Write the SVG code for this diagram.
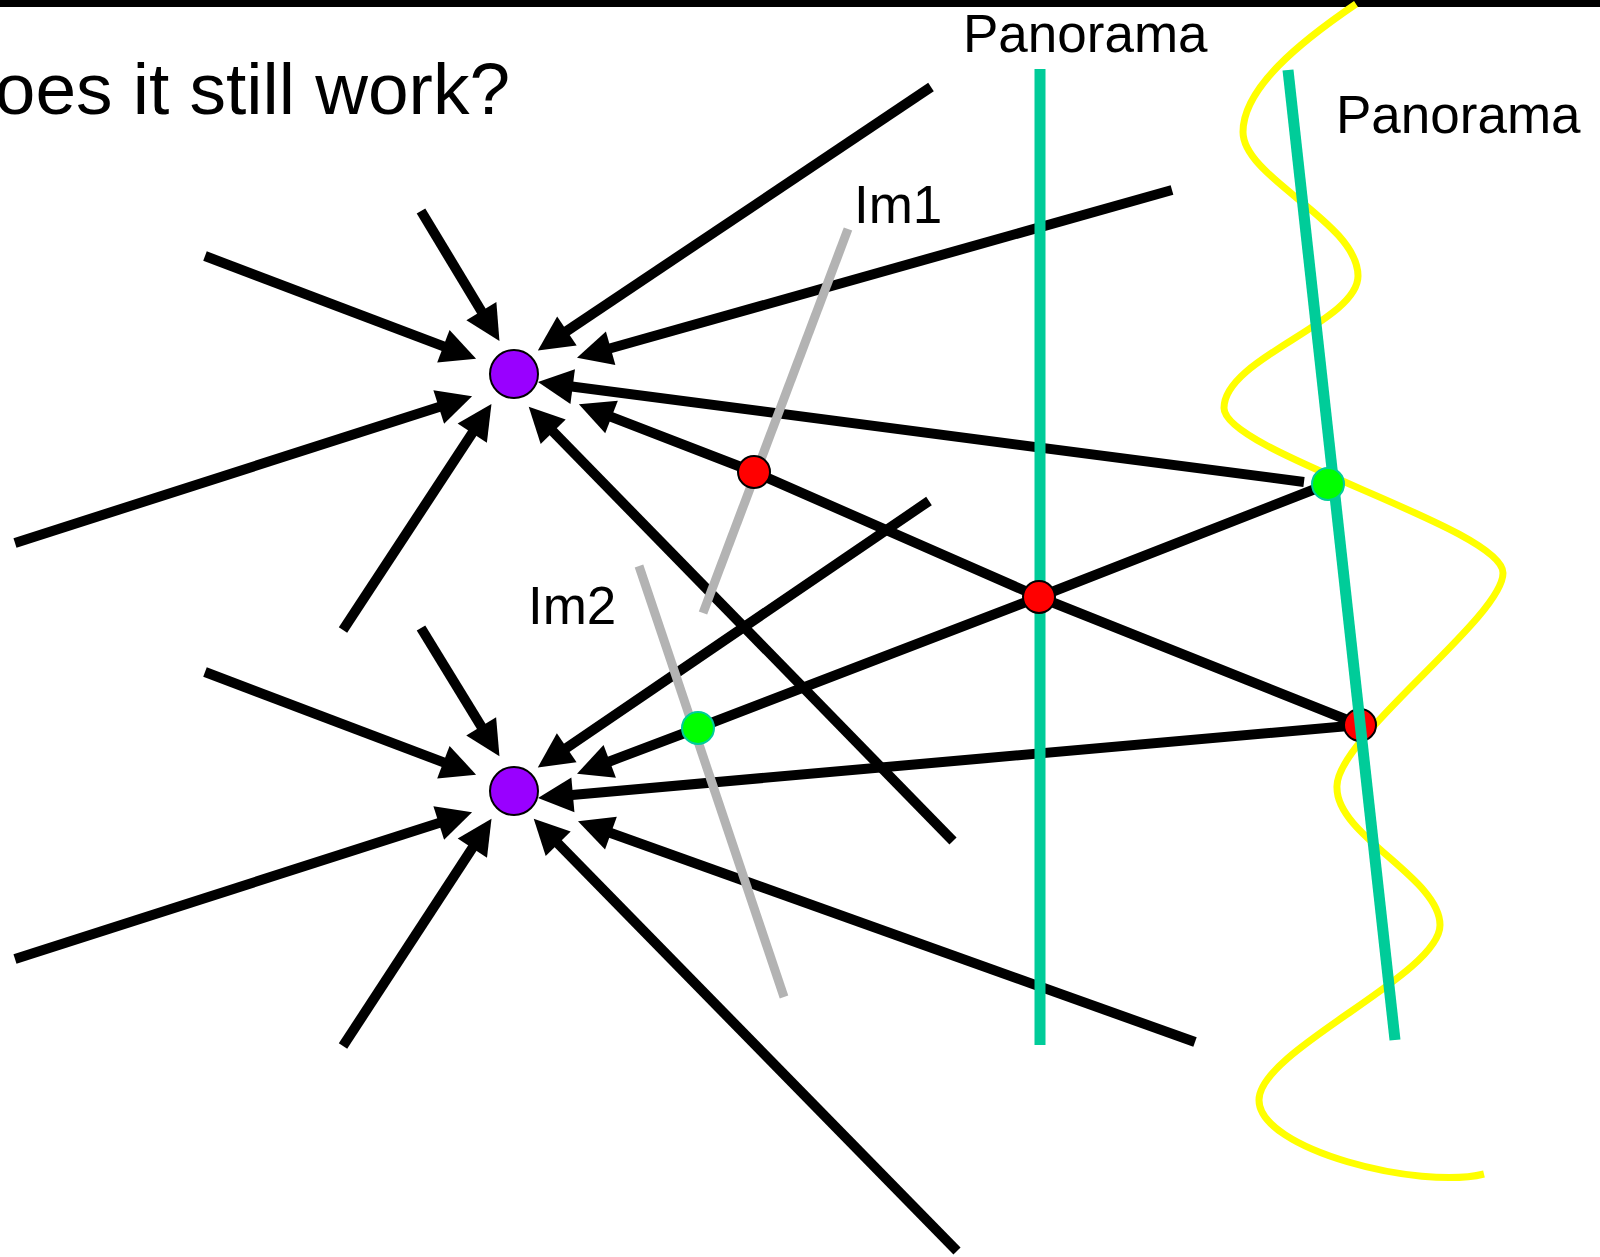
<svg xmlns="http://www.w3.org/2000/svg" width="1600" height="1257" viewBox="0 0 1600 1257">
  <style>
    .ray { fill: none; stroke: #000; stroke-width: 10; stroke-linecap: butt; stroke-linejoin: round; }
    .arrow { marker-end: url(#head); }
    .image { stroke: #b3b3b3; stroke-width: 9; }
    .pano { stroke: #00cc99; stroke-width: 11; }
    .label { font-family: "Liberation Sans", Arial, sans-serif; font-size: 53px; fill: #000; }
    .title { font-family: "Liberation Sans", Arial, sans-serif; font-size: 73px; fill: #000; }
    .point { fill: #9900ff; stroke: #000; stroke-width: 2; }
    .red { fill: #ff0000; stroke: #000; stroke-width: 2; }
    .green { fill: #00ff00; stroke: #00cc99; stroke-width: 2; }
  </style>
  <defs>
    <marker id="head" markerUnits="userSpaceOnUse" markerWidth="36" markerHeight="36" refX="1" refY="17.5" orient="auto" overflow="visible">
      <path d="M0,0 L35,17.5 L0,35 z" fill="#000"/>
    </marker>
  </defs>

  <rect x="0" y="0" width="1600" height="7" fill="#000"/>
  <text class="title" x="510" y="114" text-anchor="end">Does it still work?</text>

  <!-- rays converging on the two scene points -->
  <g id="connectors">
    <!-- upper point -->
    <line class="ray arrow" x1="421" y1="211" x2="481.9" y2="312"/>
    <line class="ray arrow" x1="205" y1="256" x2="444.3" y2="346.6"/>
    <line class="ray arrow" x1="15" y1="543" x2="439.7" y2="406.7"/>
    <line class="ray arrow" x1="343" y1="630" x2="472.8" y2="432.3"/>
    <line class="ray arrow" x1="931" y1="87" x2="566.1" y2="331.5"/>
    <line class="ray arrow" x1="1172" y1="190" x2="609.7" y2="348.5"/>
    <line class="ray arrow" x1="1304" y1="482" x2="571.7" y2="386.5"/>
    <path class="ray arrow" d="M1360,725 L1039,597 L754,472 L610.6,416.6"/>
    <line class="ray arrow" x1="953" y1="841" x2="552.5" y2="431"/>
    <!-- lower point -->
    <line class="ray arrow" x1="421" y1="628" x2="481.7" y2="727.2"/>
    <line class="ray arrow" x1="205" y1="672" x2="444.3" y2="762.6"/>
    <line class="ray arrow" x1="15" y1="959" x2="439.7" y2="822.7"/>
    <line class="ray arrow" x1="343" y1="1046" x2="472.9" y2="847.3"/>
    <line class="ray arrow" x1="929" y1="501" x2="565.9" y2="748.3"/>
    <path class="ray arrow" d="M1328,484 L1039,597 L698,728 L608.8,761.7"/>
    <line class="ray arrow" x1="1360" y1="725" x2="571.9" y2="794.9"/>
    <line class="ray arrow" x1="1195" y1="1042" x2="610" y2="832.8"/>
    <line class="ray arrow" x1="957" y1="1251" x2="557.5" y2="843"/>
  </g>

  <!-- wavy surface -->
  <path id="surface" d="M1356,4 C1300,42 1243,88 1243,132 C1243,178 1358,222 1358,276 C1358,322 1224,358 1224,408 C1224,452 1503,528 1503,573 C1503,618 1333,740 1337,788 C1337,836 1440,878 1440,925 C1440,975 1259,1050 1259,1100 C1259,1150 1420,1190 1484,1174" fill="none" stroke="#ffff00" stroke-width="7"/>

  <!-- image planes -->
  <g id="im1">
    <line class="image" x1="848" y1="229" x2="703" y2="613"/>
    <text class="label" x="854" y="223">Im1</text>
  </g>
  <g id="im2">
    <line class="image" x1="639" y1="566" x2="784" y2="997"/>
    <text class="label" x="528" y="624">Im2</text>
  </g>

  <!-- panorama planes -->
  <g id="panorama1">
    <line class="pano" x1="1040" y1="69" x2="1040" y2="1045"/>
    <text class="label" x="963" y="52">Panorama</text>
  </g>
  <circle id="hit-red-3" class="red" cx="1360" cy="725" r="16"/>
  <g id="panorama2">
    <line class="pano" x1="1288" y1="70" x2="1395" y2="1040"/>
    <text class="label" x="1336" y="133">Panorama</text>
  </g>

  <!-- projections -->
  <circle id="hit-red-1" class="red" cx="754" cy="472" r="16"/>
  <circle id="hit-red-2" class="red" cx="1039" cy="597" r="16"/>
  <circle id="hit-green-1" class="green" cx="1328" cy="484" r="16"/>
  <circle id="hit-green-2" class="green" cx="698" cy="728" r="16"/>

  <!-- scene points -->
  <g id="point1"><circle class="point" cx="514" cy="374" r="24"/></g>
  <g id="point2"><circle class="point" cx="514" cy="791" r="24"/></g>
</svg>
